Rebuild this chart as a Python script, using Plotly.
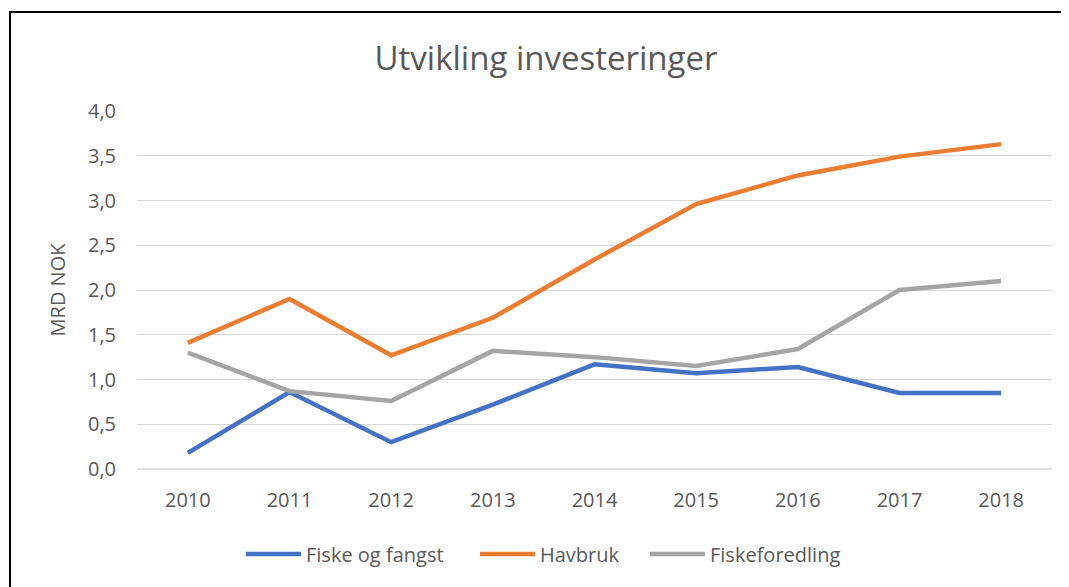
import plotly.graph_objects as go

years = ["2010", "2011", "2012", "2013", "2014", "2015", "2016", "2017", "2018"]
fiske_og_fangst = [0.18, 0.86, 0.30, 0.72, 1.17, 1.07, 1.14, 0.85, 0.85]
havbruk = [1.41, 1.90, 1.27, 1.69, 2.34, 2.96, 3.28, 3.49, 3.63]
fiskeforedling = [1.30, 0.87, 0.76, 1.32, 1.25, 1.15, 1.34, 2.00, 2.10]
y_ticks = [0, 0.5, 1.0, 1.5, 2.0, 2.5, 3.0, 3.5, 4.0]
y_tick_labels = ["0,0", "0,5", "1,0", "1,5", "2,0", "2,5", "3,0", "3,5", "4,0"]

series = [
    ("Fiske og fangst", fiske_og_fangst, "#4472C4", 164),
    ("Havbruk", havbruk, "#ED7D31", 100),
    ("Fiskeforedling", fiskeforedling, "#A5A5A5", 140),
]

fig = go.Figure()
for name, vals, color, lw in series:
    fig.add_trace(go.Scatter(
        x=years, y=vals, name=name, mode="lines",
        line=dict(color=color, width=4.5),
        legendwidth=lw,
    ))

# page body has an 8px margin, so figure pixel = reference pixel - 8
W, H = 1061, 579
L, T, R, B = 129, 103, 17, 118
pw, ph = W - L - R, H - T - B

font_family = "Open Sans, Liberation Sans, sans-serif"
grey = "#595959"
fig.update_layout(
    width=W, height=H,
    margin=dict(l=L, r=R, t=T, b=B, pad=0),
    paper_bgcolor="white", plot_bgcolor="white",
    font=dict(family=font_family, color=grey, size=20),
    title=dict(text="Utvikling investeringer", x=538 / W, xanchor="center",
               y=1 - 50 / H, yanchor="middle",
               font=dict(size=33, color=grey, family=font_family)),
    xaxis=dict(type="category", range=[-0.5, 8.5], showgrid=False, showline=False,
               ticks="", ticklabelstandoff=17,
               tickfont=dict(size=20, color=grey)),
    yaxis=dict(range=[0, 4], tickvals=y_ticks, ticktext=y_tick_labels,
               showgrid=True, gridcolor="#D9D9D9", gridwidth=1.3,
               zeroline=False, showline=False, ticks="",
               ticklabelstandoff=20,
               tickfont=dict(size=20, color=grey),
               title=dict(text="MRD NOK", font=dict(size=20, color=grey), standoff=16)),
    legend=dict(orientation="h", x=(540 - L) / pw, xanchor="center",
                y=(H - B - 546) / ph, yanchor="middle",
                font=dict(size=20, color=grey), itemwidth=55,
                tracegroupgap=0),
    showlegend=True,
)

fig.add_shape(type="line", xref="paper", yref="paper",
              x0=0, x1=1, y0=0, y1=0, line=dict(color="#D9D9D9", width=1.3))
fig.add_shape(type="rect", xref="paper", yref="paper",
              x0=(2 - L) / pw, x1=(W + 20 - L) / pw,
              y0=(H - B - (H + 20)) / ph, y1=(H - B - 4) / ph,
              line=dict(color="black", width=2), fillcolor="rgba(0,0,0,0)", layer="below")

fig.write_html("out.html")
